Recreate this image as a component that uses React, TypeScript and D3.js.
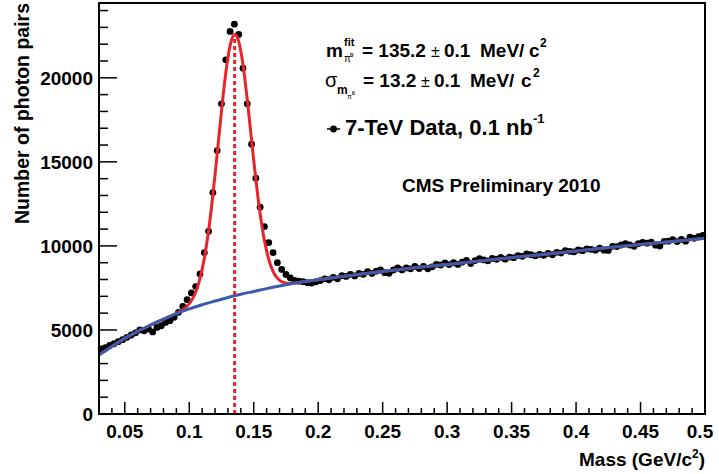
import React from 'react';
import * as d3 from 'd3';

// photon pair counts, bins of width 1/300 GeV, first bin centred at 0.03167
const BIN_WIDTH = 1 / 300;
const FIRST_BIN = 9;
const counts = [
  3880, 3950, 4080, 4180, 4300, 4420, 4560, 4700, 4830, 5000,
  4950, 5050, 4880, 5150, 5250, 5450, 5550, 5750, 6050, 6400,
  6800, 7200, 7580, 8330, 9600, 10870, 13170, 15670, 18450, 21070,
  22760, 23190, 22580, 20570, 18450, 16050, 14030, 12300, 11150, 10200,
  9600, 9000, 8600, 8300, 8100, 7950, 7900, 7870, 7815, 7790,
  7865, 7940, 8040, 7985, 8130, 8040, 8230, 8185, 8310, 8215,
  8360, 8310, 8465, 8365, 8495, 8565, 8410, 8368, 8566, 8684,
  8572, 8690, 8638, 8776, 8654, 8782, 8640, 8758, 8906, 8864,
  8992, 8890, 8998, 8896, 9034, 9142, 8950, 9128, 9246, 9164,
  9112, 9250, 9206, 9312, 9208, 9334, 9300, 9426, 9382, 9528,
  9474, 9410, 9496, 9442, 9558, 9474, 9620, 9576, 9722, 9678,
  9644, 9760, 9716, 9822, 9798, 9744, 9870, 9745, 9730, 9975,
  9960, 10055, 10130, 10055, 9980, 10135, 10210, 10165, 10230, 10045,
  9990, 10275, 10280, 10375, 10260, 10385, 10280, 10525, 10450, 10545,
  10620,
];

// background fit (blue)
const bgMass = [0.03, 0.04, 0.05, 0.06, 0.07, 0.08, 0.09, 0.1, 0.11, 0.12, 0.13, 0.14, 0.15, 0.16, 0.17, 0.18, 0.19, 0.2, 0.22, 0.24, 0.26, 0.28, 0.3, 0.32, 0.34, 0.36, 0.38, 0.4, 0.42, 0.44, 0.46, 0.48, 0.5];
const bgValue = [3520, 4020, 4500, 4920, 5290, 5640, 5970, 6250, 6500, 6720, 6930, 7120, 7290, 7460, 7620, 7760, 7880, 7990, 8200, 8390, 8570, 8740, 8900, 9060, 9220, 9380, 9540, 9700, 9860, 10010, 10160, 10310, 10460];

// signal + background fit (red)
const fitMass = [0.03, 0.04, 0.05, 0.06, 0.07, 0.08, 0.085, 0.0875, 0.09, 0.0925, 0.095, 0.0975, 0.1, 0.1025, 0.105, 0.1075, 0.11, 0.1125, 0.115, 0.1175, 0.12, 0.1225, 0.125, 0.1275, 0.13, 0.1325, 0.1352, 0.1375, 0.14, 0.1425, 0.145, 0.1475, 0.15, 0.1525, 0.155, 0.1575, 0.16, 0.1625, 0.165, 0.1675, 0.17, 0.1725, 0.175, 0.1775, 0.18, 0.185, 0.19, 0.2, 0.22, 0.24, 0.26, 0.28, 0.3, 0.32, 0.34, 0.36, 0.38, 0.4, 0.42, 0.44, 0.46, 0.48, 0.5];
const fitValue = [3520, 4020, 4500, 4920, 5290, 5640, 5810, 5900, 5995, 6090, 6206, 6357, 6564, 6848, 7255, 7825, 8604, 9623, 10912, 12461, 14230, 16128, 18028, 19778, 21210, 22175, 22580, 22365, 21581, 20310, 18697, 16905, 15090, 13390, 11897, 10666, 9701, 8987, 8489, 8162, 7963, 7849, 7796, 7781, 7788, 7826, 7880, 7990, 8200, 8390, 8570, 8740, 8900, 9060, 9220, 9380, 9540, 9700, 9860, 10010, 10160, 10310, 10460];

const peakMass = 0.1352;
const peakValue = 22580;

const xMajor = [0.05, 0.1, 0.15, 0.2, 0.25, 0.3, 0.35, 0.4, 0.45, 0.5];
const xLabels = ['0.05', '0.1', '0.15', '0.2', '0.25', '0.3', '0.35', '0.4', '0.45', '0.5'];
const yMajor = [0, 5000, 10000, 15000, 20000];

const RED = '#e8242b';
const BLUE = '#3a5bab';
const FONT = '"Liberation Sans", Arial, Helvetica, sans-serif';

export default function App() {
  const x = d3.scaleLinear().domain([0.03, 0.5]).range([99, 705]);
  const y = d3.scaleLinear().domain([0, 24450]).range([414, 3]);

  const points = counts.map((c, k) => ({ m: (FIRST_BIN + k + 0.5) * BIN_WIDTH, c }));

  const line = d3
    .line<[number, number]>()
    .x((d) => x(d[0]))
    .y((d) => y(d[1]))
    .curve(d3.curveMonotoneX);

  const bgPath = line(bgMass.map((m, i) => [m, bgValue[i]]) as [number, number][]) || '';
  const fitPath = line(fitMass.map((m, i) => [m, fitValue[i]]) as [number, number][]) || '';

  const xMinor = d3.range(4, 50).map((k) => k / 100).filter((v) => Math.round(v * 100) % 5 !== 0);
  const yMinor = d3.range(1000, 24001, 1000).filter((v) => v % 5000 !== 0);

  const [x0, x1] = x.range();
  const [y0, y1] = y.range();

  return (
    <svg
      width={719}
      height={474}
      style={{ position: 'absolute', left: 0, top: 0, background: '#fff' }}
      fontFamily={FONT}
    >
      <rect x={0} y={0} width={719} height={474} fill="#fff" />

      {/* data */}
      <g fill="#000">
        {points.map((p, i) => (
          <circle key={i} cx={x(p.m)} cy={y(p.c)} r={3.4} />
        ))}
      </g>

      {/* fits, drawn over the points */}
      <path d={fitPath} fill="none" stroke={RED} strokeWidth={3} />
      <path d={bgPath} fill="none" stroke={BLUE} strokeWidth={3} />

      {/* peak position */}
      <line
        x1={x(peakMass)}
        x2={x(peakMass)}
        y1={y(0)}
        y2={y(peakValue)}
        stroke={RED}
        strokeWidth={3}
        strokeDasharray="4 3"
      />

      {/* frame */}
      <rect x={x0} y={y1} width={x1 - x0} height={y0 - y1} fill="none" stroke="#000" strokeWidth={2} />

      {/* ticks */}
      <g stroke="#000" strokeWidth={1.5}>
        {xMajor.map((v) => (
          <line key={'xM' + v} x1={x(v)} x2={x(v)} y1={y0} y2={y0 - 12} />
        ))}
        {xMinor.map((v) => (
          <line key={'xm' + v} x1={x(v)} x2={x(v)} y1={y0} y2={y0 - 6} />
        ))}
        {yMajor.map((v) => (
          <line key={'yM' + v} x1={x0} x2={x0 + 18} y1={y(v)} y2={y(v)} />
        ))}
        {yMinor.map((v) => (
          <line key={'ym' + v} x1={x0} x2={x0 + 9} y1={y(v)} y2={y(v)} />
        ))}
      </g>

      {/* tick labels */}
      <g fontSize={19} fontWeight="bold" fill="#000">
        {xMajor.map((v, i) => (
          <text key={'xl' + v} x={Math.min(x(v), 700)} y={438} textAnchor="middle">
            {xLabels[i]}
          </text>
        ))}
        {yMajor.map((v) => (
          <text key={'yl' + v} x={93} y={y(v) + 7} textAnchor="end">
            {d3.format('d')(v)}
          </text>
        ))}
      </g>

      {/* axis titles */}
      <text x={705} y={466} textAnchor="end" fontSize={19} fontWeight="bold">
        Mass (GeV/c<tspan fontSize={12} dy={-8}>2</tspan>
        <tspan dy={8}>)</tspan>
      </text>
      <text transform="translate(29,3) rotate(-90)" textAnchor="end" fontSize={19.5} fontWeight="bold">
        Number of photon pairs
      </text>

      {/* fit results */}
      <g fontWeight="bold" fill="#000">
        <text x={326} y={57} fontSize={19}>m</text>
        <text x={344} y={46} fontSize={11}>fit</text>
        <text x={344} y={62} fontSize={10} fontWeight="normal">π</text>
        <text x={350} y={57} fontSize={6}>0</text>
        <text x={362} y={57} fontSize={19}>= 135.2</text>
        <text x={431} y={57} fontSize={16} fontWeight="normal">±</text>
        <text x={444} y={57} fontSize={19}>0.1</text>
        <text x={480} y={57} fontSize={19}>MeV/</text>
        <text x={529} y={57} fontSize={19}>c</text>
        <text x={540} y={47} fontSize={12}>2</text>

        <text x={325} y={87} fontSize={20} fontWeight="normal">σ</text>
        <text x={337} y={94} fontSize={12}>m</text>
        <text x={347} y={99} fontSize={7} fontWeight="normal">π</text>
        <text x={352} y={95} fontSize={5}>0</text>
        <text x={363} y={87} fontSize={19}>= 13.2</text>
        <text x={421} y={87} fontSize={16} fontWeight="normal">±</text>
        <text x={434} y={87} fontSize={19}>0.1</text>
        <text x={470} y={87} fontSize={19}>MeV/</text>
        <text x={521} y={87} fontSize={19}>c</text>
        <text x={533} y={77} fontSize={12}>2</text>
      </g>

      {/* legend */}
      <line x1={327} x2={340} y1={129} y2={129} stroke="#000" strokeWidth={1.5} />
      <circle cx={333.5} cy={129} r={3.4} fill="#000" />
      <text x={345} y={135} fontSize={22} fontWeight="bold">
        7-TeV Data, 0.1 nb<tspan fontSize={13} dy={-12}>-1</tspan>
      </text>

      <text x={402} y={192} fontSize={19} fontWeight="bold">
        CMS Preliminary 2010
      </text>
    </svg>
  );
}
